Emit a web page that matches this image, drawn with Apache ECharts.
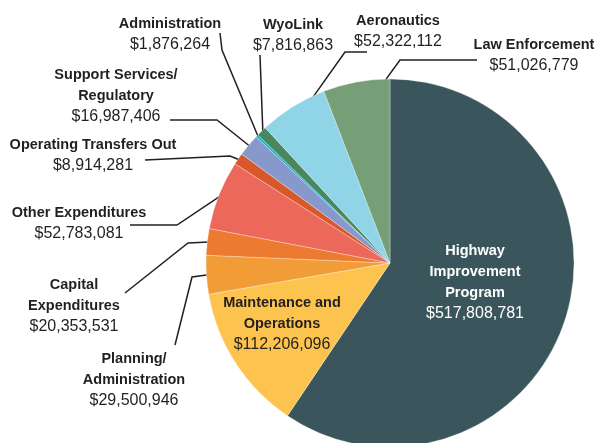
<!DOCTYPE html>
<html>
<head>
<meta charset="utf-8">
<script src="https://cdn.jsdelivr.net/npm/echarts@6/dist/echarts.min.js"></script>
<style>
  html, body { margin: 0; padding: 0; background: #fff; }
  #chart { width: 600px; height: 443px; }
</style>
</head>
<body>
<div id="chart"></div>
<script>
// clockwise from 12 o'clock
const categories = [
    'Highway\nImprovement\nProgram',
    'Maintenance and\nOperations',
    'Planning/\nAdministration',
    'Capital\nExpenditures',
    'Other Expenditures',
    'Operating Transfers Out',
    'Support Services/\nRegulatory',
    'Administration',
    'WyoLink',
    'Aeronautics',
    'Law Enforcement'
];
const amounts = [517808781, 112206096, 29500946, 20353531, 52783081, 8914281,
    16987406, 1876264, 7816863, 52322112, 51026779];
const colors = ['#3a555b', '#fcc44f', '#f29c37', '#ec7b31', '#ec685a', '#d8582b',
    '#8799cc', '#19b6d0', '#4a8760', '#8fd4e7', '#769f78'];

// label placement (centre of text block) and leader line bends
const labelPos = [[475, 282], [282, 324], [134, 380], [74, 306], [79, 223], [93, 155],
    [116, 96], [170, 34], [293, 35], [398, 31], [534, 55]];
const bends = [
    null,
    null,
    [[192, 277], [175, 345]],
    [[188, 243], [125, 293]],
    [[177, 225], [130, 225]],
    [[230, 156], [145, 160]],
    [[217, 120], [170, 120]],
    [[222, 50], [220, 33]],
    [[260, 55]],
    [[345, 52], [367, 52]],
    [[400, 60], [477, 60]]
];
const anchorAt = [0.5, 0.5, 0.5, 0.5, 0.5, 0.5, 0.5, 0.5, 0.5, 0.8, 0.92];

const CX = 390, CY = 263, R = 184;
const total = amounts.reduce(function (a, b) { return a + b; }, 0);

function anchor(i) {
    let cum = 0;
    for (let k = 0; k < i; k++) cum += amounts[k];
    const deg = (cum + anchorAt[i] * amounts[i]) / total * 360;
    const rad = deg * Math.PI / 180;
    const r = R - 2;
    return [CX + r * Math.sin(rad), CY - r * Math.cos(rad)];
}

const myChart = echarts.init(document.getElementById('chart'));

const data = categories.map(function (name, i) {
    const item = {
        name: name,
        value: amounts[i],
        itemStyle: { color: colors[i] }
    };
    if (i === 0) {
        item.label = { color: '#ffffff' };
        item.labelLine = { show: false };
    }
    if (i === 1) {
        item.labelLine = { show: false };
    }
    return item;
});

const option = {
    backgroundColor: '#ffffff',
    animation: false,
    series: [
        {
            type: 'pie',
            center: [CX, CY],
            radius: R,
            startAngle: 90,
            clockwise: true,
            avoidLabelOverlap: false,
            data: data,
            itemStyle: {
                borderColor: 'rgba(255,255,255,0.6)',
                borderWidth: 0.5
            },
            label: {
                show: true,
                position: 'outside',
                color: '#231f20',
                formatter: function (p) {
                    const lines = p.name.split('\n').map(function (s) {
                        return '{n|' + s + '}';
                    });
                    lines.push('{v|$' + p.value.toLocaleString('en-US') + '}');
                    return lines.join('\n');
                },
                rich: {
                    n: {
                        fontFamily: '"Liberation Sans Narrow", "Arial Narrow", "Liberation Sans", sans-serif',
                        fontWeight: 'bold',
                        fontSize: 14.5,
                        lineHeight: 21
                    },
                    v: {
                        fontFamily: '"Liberation Sans", Arial, sans-serif',
                        fontSize: 16,
                        lineHeight: 21
                    }
                }
            },
            labelLine: {
                show: true,
                lineStyle: { color: '#231f20', width: 1.5 }
            },
            labelLayout: function (params) {
                const i = params.dataIndex;
                const res = {
                    x: labelPos[i][0],
                    y: labelPos[i][1],
                    align: 'center',
                    verticalAlign: 'middle'
                };
                if (bends[i]) {
                    res.labelLinePoints = [anchor(i)].concat(bends[i]);
                }
                return res;
            }
        }
    ]
};

myChart.setOption(option);
window.onresize = myChart.resize;
</script>
</body>
</html>
